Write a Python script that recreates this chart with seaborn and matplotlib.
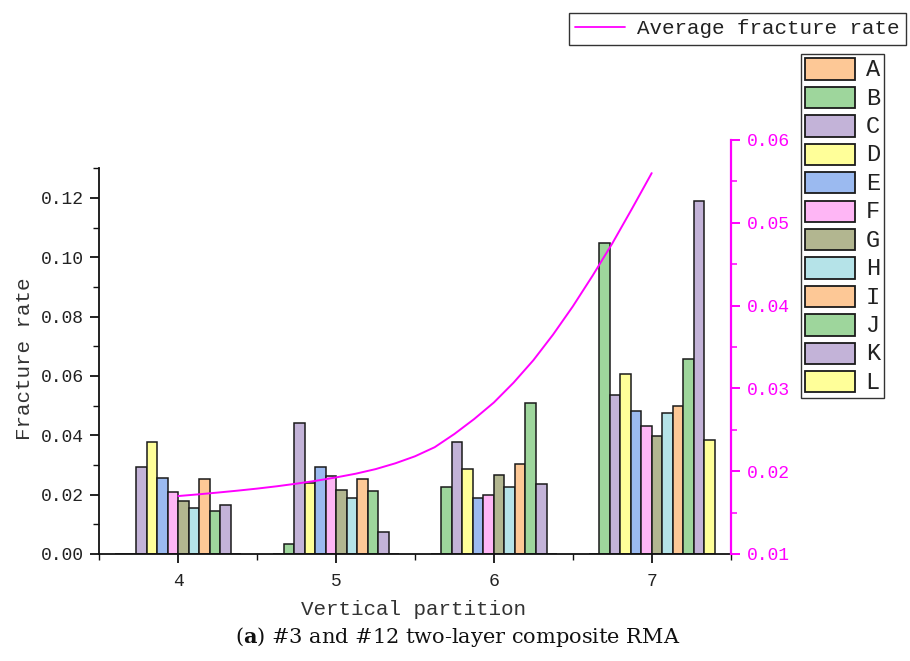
import numpy as np
import pandas as pd
import matplotlib
matplotlib.use("Agg")
import matplotlib.pyplot as plt
from matplotlib.patches import Patch
from matplotlib.lines import Line2D
from matplotlib.ticker import MultipleLocator, FormatStrFormatter
import seaborn as sns

# ---- data ----
partitions = [4, 5, 6, 7]
series_names = ["A", "B", "C", "D", "E", "F", "G", "H", "I", "J", "K", "L"]
rate_A = [0.0, 0.0, 0.0, 0.0]
rate_B = [0.0, 0.0033, 0.0227, 0.1048]
rate_C = [0.0292, 0.0442, 0.0379, 0.0537]
rate_D = [0.0376, 0.0239, 0.0288, 0.0606]
rate_E = [0.0256, 0.0294, 0.0190, 0.0481]
rate_F = [0.0209, 0.0262, 0.0199, 0.0431]
rate_G = [0.0180, 0.0217, 0.0267, 0.0399]
rate_H = [0.0156, 0.0189, 0.0227, 0.0474]
rate_I = [0.0254, 0.0252, 0.0304, 0.0500]
rate_J = [0.0146, 0.0212, 0.0510, 0.0658]
rate_K = [0.0166, 0.0075, 0.0235, 0.1191]
rate_L = [0.0, 0.0, 0.0, 0.0384]

# average fracture rate curve (right axis), sampled every 0.125 partition
avg_x = [4.0, 4.125, 4.25, 4.375, 4.5, 4.625, 4.75, 4.875,
         5.0, 5.125, 5.25, 5.375, 5.5, 5.625, 5.75, 5.875,
         6.0, 6.125, 6.25, 6.375, 6.5, 6.625, 6.75, 6.875, 7.0]
avg_rate = [0.01700, 0.01720, 0.01742, 0.01765, 0.01790, 0.01818, 0.01850, 0.01885,
            0.01925, 0.01970, 0.02025, 0.02095, 0.02180, 0.02290, 0.02450, 0.02630,
            0.02830, 0.03070, 0.03340, 0.03650, 0.03990, 0.04360, 0.04750, 0.05170,
            0.05600]

all_rates = [rate_A, rate_B, rate_C, rate_D, rate_E, rate_F,
             rate_G, rate_H, rate_I, rate_J, rate_K, rate_L]

colors = ["#fdc896", "#9ed69c", "#c3b3d8", "#ffff99", "#9bbaf0", "#feb6f5",
          "#b2b690", "#b5e3e8", "#fdc896", "#9ed69c", "#c3b3d8", "#ffff99"]

df = pd.DataFrame({
    "partition": partitions * len(series_names),
    "series": np.repeat(series_names, len(partitions)),
    "rate": np.concatenate(all_rates),
})

# ---- style ----
sns.set_style("ticks")
plt.rcParams["font.family"] = ["Liberation Mono", "DejaVu Sans"]
plt.rcParams["mathtext.fontset"] = "dejavuserif"

W, H = 910, 661
fig = plt.figure(figsize=(W / 100, H / 100), dpi=100)

x_left, x_right = 99.4, 730.6
y_bottom, y_top_left, y_top_right = 554, 168.3, 140
ax = fig.add_axes([x_left / W, 1 - y_bottom / H,
                   (x_right - x_left) / W, (y_bottom - y_top_left) / H])
ax2 = fig.add_axes([x_left / W, 1 - y_bottom / H,
                    (x_right - x_left) / W, (y_bottom - y_top_right) / H])

edge = "#1a1a1a"
sns.barplot(data=df, x="partition", y="rate", hue="series",
            hue_order=series_names, palette=colors, native_scale=True,
            errorbar=None, saturation=1, width=0.8, edgecolor=edge,
            linewidth=1.1, legend=False, ax=ax)

ax.set_xlim(3.5, 7.5)
ax.set_ylim(0, 0.13)
ax.set_xticks(partitions)
ax.set_xticklabels([str(p) for p in partitions])
ax.xaxis.set_minor_locator(MultipleLocator(0.5))
ax.yaxis.set_major_locator(MultipleLocator(0.02))
ax.yaxis.set_minor_locator(MultipleLocator(0.01))
ax.yaxis.set_major_formatter(FormatStrFormatter("%.2f"))
for s in ["top", "right"]:
    ax.spines[s].set_visible(False)
for s in ["left", "bottom"]:
    ax.spines[s].set_linewidth(1.3)
    ax.spines[s].set_color("#111111")
ax.tick_params(axis="both", which="major", direction="out", length=6.5,
               width=1.3, color="#111111", labelsize=13, labelcolor="#222222")
ax.tick_params(axis="both", which="minor", direction="out", length=4,
               width=1.0, color="#111111")
ax.tick_params(axis="x", which="major", pad=7)
ax.tick_params(axis="y", which="major", pad=5)
ax.set_xlabel("Vertical partition", fontsize=15, color="#333333")
ax.set_ylabel("Fracture rate", fontsize=15, color="#333333")
ax.xaxis.set_label_coords(0.4984, -0.118)
ax.yaxis.set_label_coords(-0.104, 0.505)

# right axis with the average curve
magenta = "#ff00ff"
sns.lineplot(x=avg_x, y=avg_rate, color=magenta, linewidth=1.4, ax=ax2,
             legend=False, solid_joinstyle="round")
ax2.set_xlim(3.5, 7.5)
ax2.set_ylim(0.01, 0.06)
ax2.patch.set_visible(False)
for s in ["top", "left", "bottom"]:
    ax2.spines[s].set_visible(False)
ax2.spines["right"].set_visible(True)
ax2.spines["right"].set_color(magenta)
ax2.spines["right"].set_linewidth(1.6)
ax2.xaxis.set_visible(False)
ax2.yaxis.tick_right()
ax2.yaxis.set_major_locator(MultipleLocator(0.01))
ax2.yaxis.set_minor_locator(MultipleLocator(0.005))
ax2.yaxis.set_major_formatter(FormatStrFormatter("%.2f"))
ax2.tick_params(axis="y", which="major", direction="out", length=6.5,
                width=1.4, color=magenta, labelcolor=magenta, labelsize=13,
                pad=5)
ax2.tick_params(axis="y", which="minor", direction="out", length=4,
                width=1.1, color=magenta)
ax2.set_xlabel("")
ax2.set_ylabel("")

# legends
line_handle = Line2D([], [], color=magenta, linewidth=1.3)
leg1 = fig.legend([line_handle], ["Average fracture rate"], loc="upper right",
                  bbox_to_anchor=(906 / W, 1 - 13 / H), frameon=True,
                  fancybox=False, edgecolor="#333333", framealpha=1,
                  borderpad=0.3, handlelength=2.4, handletextpad=0.6,
                  borderaxespad=0, prop=dict(family="Liberation Mono", size=15),
                  labelcolor="#222222")
leg1.get_frame().set_linewidth(1.0)

patches = [Patch(facecolor=c, edgecolor=edge, linewidth=1.3) for c in colors]
leg2 = fig.legend(patches, series_names, loc="upper right",
                  bbox_to_anchor=(884 / W, 1 - 54 / H), frameon=True,
                  fancybox=False, edgecolor="#333333", framealpha=1,
                  borderpad=0.2, handlelength=2.4, handleheight=1.2,
                  labelspacing=0.26, handletextpad=0.5, borderaxespad=0,
                  prop=dict(family="Liberation Mono", size=15),
                  labelcolor="#222222")
leg2.get_frame().set_linewidth(1.0)
for t in leg2.get_texts():
    t.set_fontsize(17)

# caption
fig.text(457.5 / W, 1 - 637 / H,
         r"($\mathbf{a}$) #3 and #12 two-layer composite RMA",
         ha="center", va="center", fontsize=15, family="DejaVu Serif",
         color="#111111")

fig.savefig("out.png", dpi=100, facecolor="white")
